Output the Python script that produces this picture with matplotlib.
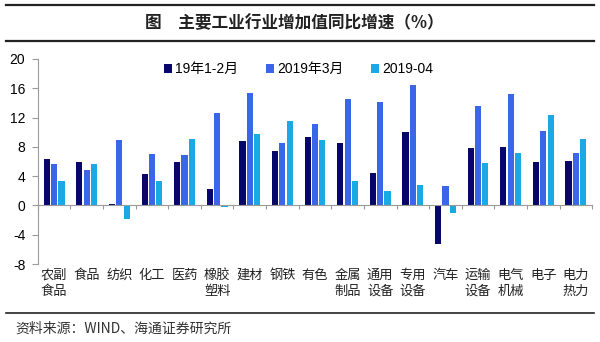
import numpy as np
import matplotlib.pyplot as plt
from matplotlib.lines import Line2D
import matplotlib.transforms as mtransforms

plt.rcParams['font.family'] = ['Noto Sans CJK SC', 'DejaVu Sans']

# data
categories = ['农副\n食品', '食品', '纺织', '化工', '医药', '橡胶\n塑料', '建材', '钢铁',
              '有色', '金属\n制品', '通用\n设备', '专用\n设备', '汽车', '运输\n设备',
              '电气\n机械', '电子', '电力\n热力']
jan_feb = [6.3, 6.0, 0.2, 4.3, 5.9, 2.2, 8.8, 7.5, 9.3, 8.5, 4.4, 10.0, -5.3, 7.9, 8.0, 6.0, 6.1]
march = [5.7, 4.8, 9.0, 7.0, 6.9, 12.6, 15.4, 8.5, 11.1, 14.6, 14.1, 16.4, 2.6, 13.6, 15.2, 10.2, 7.2]
april = [3.4, 5.6, -1.8, 3.4, 9.1, -0.2, 9.8, 11.5, 8.9, 3.3, 2.0, 2.8, -1.1, 5.8, 7.1, 12.4, 9.1]
series_names = ['19年1-2月', '2019年3月', '2019-04']
yticks = [-8, -4, 0, 4, 8, 12, 16, 20]

colors = ['#07076B', '#3A66E8', '#1AA9E4']
axis_gray = '#9a9a9a'

fig = plt.figure(figsize=(6, 3.42), dpi=100)
ax = fig.add_axes([0.063, 0.228, 0.924, 0.5995])

x = np.arange(len(categories))
w = 0.19
step = 0.225
for k, vals in enumerate([jan_feb, march, april]):
    ax.bar(x + (k - 1) * step, vals, width=w, color=colors[k], label=series_names[k], zorder=2)

ax.set_xlim(-0.5, len(categories) - 0.5)
ax.set_ylim(-8, 20)
ax.set_yticks(yticks)
ax.set_yticklabels([str(v) for v in yticks], family=['Liberation Sans', 'DejaVu Sans'], fontsize=10)

for s in ['top', 'right']:
    ax.spines[s].set_visible(False)
ax.spines['bottom'].set_position(('data', 0))
ax.spines['bottom'].set_color(axis_gray)
ax.spines['left'].set_color(axis_gray)
ax.set_xticks(np.arange(-0.5, len(categories), 1))
ax.set_xticklabels([])
ax.tick_params(axis='x', direction='out', length=3, color=axis_gray)
ax.tick_params(axis='y', direction='out', length=4, color=axis_gray, pad=5)

trans = mtransforms.blended_transform_factory(ax.transData, ax.transAxes)
for i, lab in enumerate(categories):
    ax.text(i, -0.022, lab, transform=trans, ha='center', va='top',
            fontsize=9.5, linespacing=1.3, color='#222222')

ax.legend(loc='upper center', bbox_to_anchor=(0.47, 1.045), ncol=3, frameon=False,
          handlelength=0.6, handleheight=0.6, handletextpad=0.2, columnspacing=2.0,
          prop={'family': ['Liberation Sans', 'Noto Sans CJK SC'], 'size': 10})

# title block with rules
fig.add_artist(Line2D([0.01, 0.99], [0.985, 0.985], transform=fig.transFigure, color='#222222', lw=1.6))
fig.add_artist(Line2D([0.01, 0.99], [0.881, 0.881], transform=fig.transFigure, color='#222222', lw=1.6))
fig.text(0.49, 0.932, '图　主要工业行业增加值同比增速（%）', ha='center', va='center',
         fontsize=12, fontweight='bold', color='#222222')

fig.add_artist(Line2D([0.01, 0.99], [0.085, 0.085], transform=fig.transFigure, color='#222222', lw=1.2))
fig.text(0.025, 0.038, '资料来源：WIND、海通证券研究所', ha='left', va='center',
         fontsize=10, color='#333333', family=['Noto Sans CJK SC', 'DejaVu Sans'])

fig.savefig('out.png', dpi=100, facecolor='white')
